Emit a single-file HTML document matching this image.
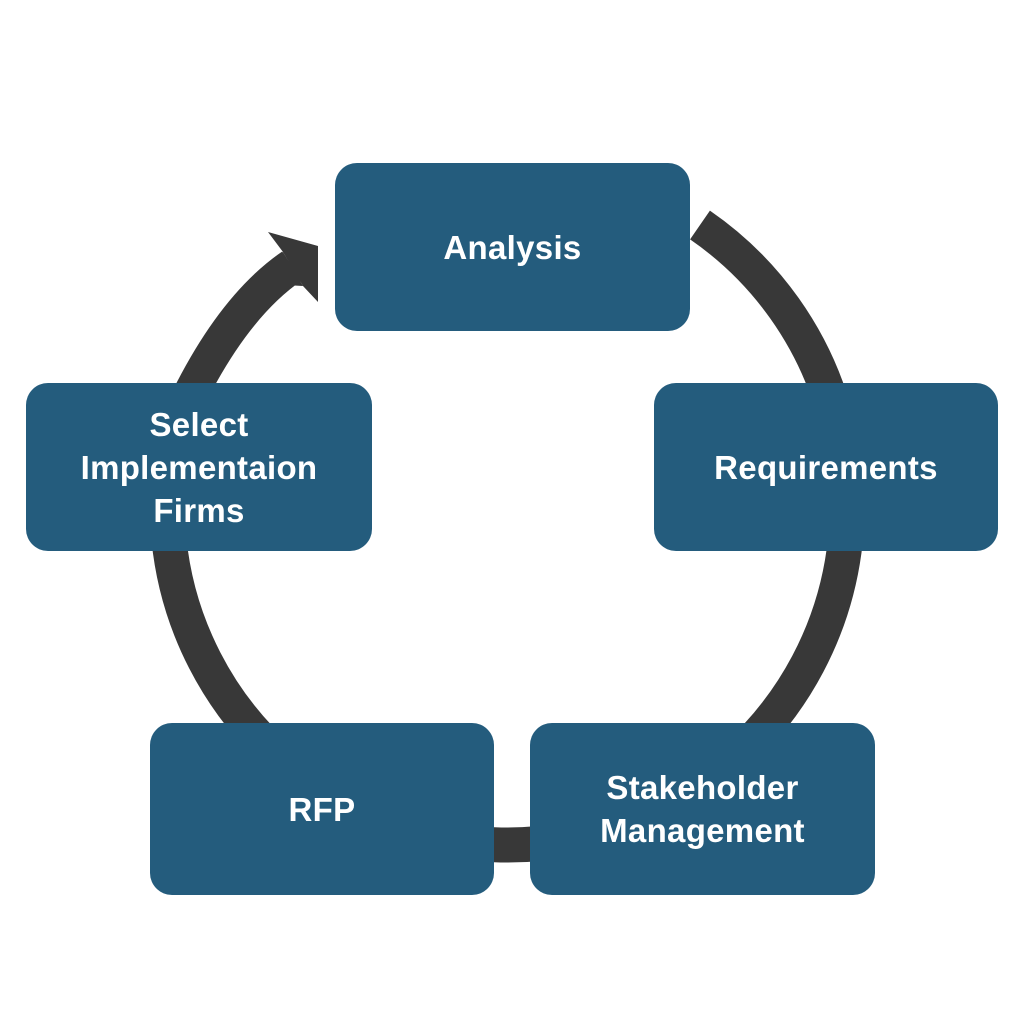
<!DOCTYPE html>
<html><head><style>
body{margin:0;background:#fff;width:1024px;height:1024px;position:relative;overflow:hidden;font-family:"Liberation Sans",sans-serif}
.b{position:absolute;background:#245c7d;border-radius:22px;color:#fff;display:flex;align-items:center;justify-content:center;text-align:center;font-size:33px;font-weight:bold;line-height:43px;letter-spacing:0.3px}
svg{position:absolute;left:0;top:0}
</style></head><body>
<svg width="1024" height="1024">
<path d="M700 225 A340 340 0 1 1 178 420 Q228 310 292 266" fill="none" stroke="#383838" stroke-width="35"/>
<polygon points="268,232 318,246 318,302 303,286 283,252" fill="#383838"/>
<polygon points="283,252 303,286 285,285 270,268" fill="#383838"/>
</svg>
<div class="b" style="left:335px;top:163px;width:355px;height:168px">Analysis</div>
<div class="b" style="left:654px;top:383px;width:344px;height:168px">Requirements</div>
<div class="b" style="left:530px;top:723px;width:345px;height:172px">Stakeholder<br>Management</div>
<div class="b" style="left:150px;top:723px;width:344px;height:172px">RFP</div>
<div class="b" style="left:26px;top:383px;width:346px;height:168px">Select<br>Implementaion<br>Firms</div>
</body></html>
